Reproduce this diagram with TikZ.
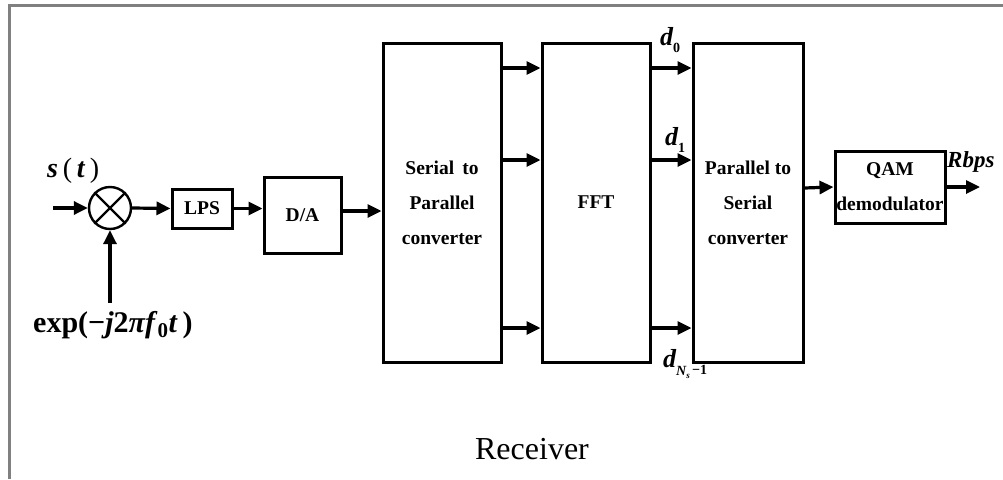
\documentclass[tikz,border=0pt]{standalone}
\usepackage{fontspec}
\setmainfont{Liberation Serif}
\usetikzlibrary{arrows.meta}
\newcommand\dsubx[2][-7pt]{\raisebox{#1}{\fontsize{14}{14}\selectfont #2}}
\begin{document}
\begin{tikzpicture}[x=1pt,y=-1pt,
 blk/.style={draw,line width=3pt,inner sep=0pt,font=\fontsize{19.5}{35}\selectfont\bfseries,align=center},
 arr/.style={line width=3.2pt,-{Triangle[length=14pt,width=13pt]}},
 lbl/.style={inner sep=0pt,anchor=base west,font=\fontsize{26}{26}\selectfont\bfseries\itshape}]
\useasboundingbox (0,0) rectangle (1003,479);
\draw[gray,line width=3pt] (9,479) -- (9,5) -- (1003,5);

% blocks
\node[draw,circle,line width=2.4pt,minimum size=42pt,inner sep=0pt] (mix) at (110,208) {};
\draw[line width=2.2pt] (mix.north west) -- (mix.south east) (mix.north east) -- (mix.south west);
\node[blk,minimum width=60pt,minimum height=39pt] (lps) at (202,208.5) {LPS};
\node[blk,minimum width=77pt,minimum height=76pt] (da) at (302.5,215) {D/A};
\node[blk,minimum width=118pt,minimum height=319pt] (sp) at (442,202.5) {Serial\, to\\Parallel\\converter};
\node[blk,minimum width=108pt,minimum height=319pt] (fft) at (596,202.5) {FFT};
\node[blk,minimum width=110pt,minimum height=319pt] (ps) at (748,202.5) {Parallel to\\Serial\\converter};
\node[blk,minimum width=110pt,minimum height=72pt] (qam) at (890,187) {QAM\\demodulator};

% texts
\node[inner sep=0pt,anchor=base west,font=\fontsize{28}{28}\selectfont] (st) at (47,177)
  {\textbf{\textit{s}}\,(\,\textbf{\textit{t}}\,)};
\node[inner sep=0pt,anchor=base west,font=\fontsize{30}{30}\selectfont\bfseries] (expl) at (33,332)
  {exp(−\textit{j}2\textit{πf}\textsubscript{0}\textit{t}\,)};
\node[lbl] (d0) at (660,45) {d\dsubx{\upshape 0}};
\node[lbl] (d1) at (665,145) {d\dsubx{\upshape 1}};
\node[lbl] (dn) at (663,367) {d\dsubx[-8pt]{\itshape N}\raisebox{-11pt}{\fontsize{9}{9}\selectfont\itshape s}\dsubx[-7pt]{\upshape\,−1}};
\node[inner sep=0pt,anchor=base west,font=\fontsize{23}{23}\selectfont\bfseries\itshape] (rb) at (947,167) {Rbps};
\node[inner sep=0pt,anchor=base,font=\fontsize{32}{32}\selectfont] (rcv) at (532,459) {Receiver};

% coordinates
\coordinate (in) at (53,208);
\coordinate (lo) at (110,303);
\coordinate (ya) at (0,211);
\coordinate (r0) at (0,68);
\coordinate (r1) at (0,160);
\coordinate (r2) at (0,328);
\coordinate (yb) at (0,188);
\coordinate (out) at (980,187);

% connectors
\draw[arr] (in) -- (mix.west);
\draw[arr] (lo) -- (mix.south);
\draw[arr] (mix.east) -- (lps.west);
\draw[arr] (lps.east) -- (lps.east -| da.west);
\draw[arr] (da.east |- ya) -- (sp.west |- ya);
\foreach \r in {r0,r1,r2} {
  \draw[arr] (sp.east |- \r) -- (fft.west |- \r);
  \draw[arr] (fft.east |- \r) -- (ps.west |- \r);
}
\draw[arr] (ps.east |- yb) -- (qam.west);
\draw[arr] (qam.east) -- (out);
\end{tikzpicture}
\end{document}
